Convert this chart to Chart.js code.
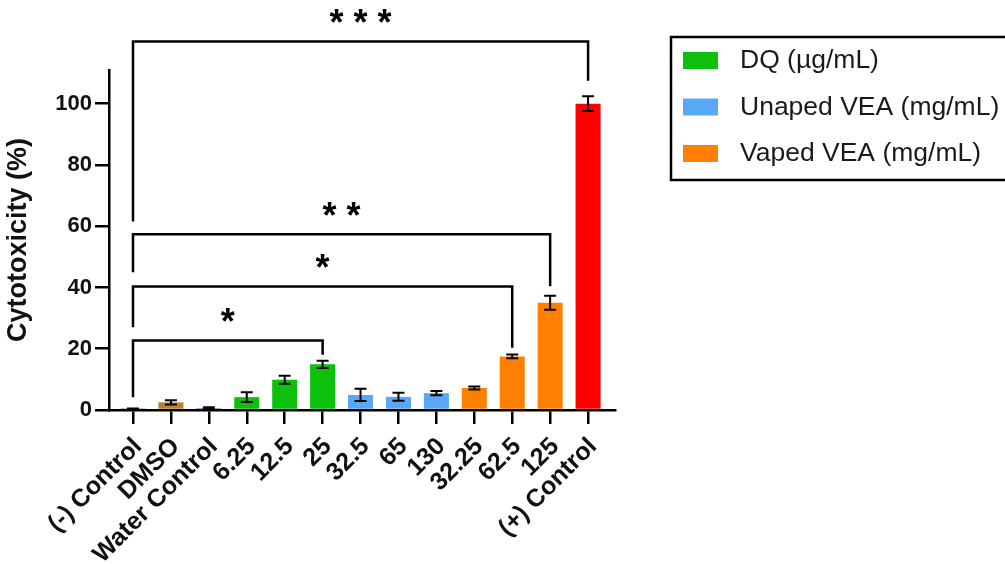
<!DOCTYPE html>
<html>
<head>
<meta charset="utf-8">
<script src="https://cdn.jsdelivr.net/npm/chart.js@4"></script>
<style>
  html, body { margin: 0; padding: 0; background: #fff; }
  #wrap { width: 1005px; height: 564px; }
</style>
</head>
<body>
<div id="wrap"><canvas id="chart" width="1005" height="564"></canvas></div>
<script>
// data
const categories = ["(-) Control", "DMSO", "Water Control", "6.25", "12.5", "25",
  "32.5", "65", "130", "32.25", "62.5", "125", "(+) Control"];
const values = [0.3, 2.5, 0.6, 4.2, 9.9, 14.9, 4.9, 4.3, 5.5, 7.2, 17.5, 35, 100];
const errors = [0.2, 0.7, 0.3, 1.6, 1.3, 1.2, 2.0, 1.3, 0.7, 0.5, 0.6, 2.3, 2.4];
const groups = ["neg", "dmso", "water", "dq", "dq", "dq",
  "unaped", "unaped", "unaped", "vaped", "vaped", "vaped", "pos"];
const yTicks = [0, 20, 40, 60, 80, 100];

const legendLabels = ["DQ (\u00b5g/mL)", "Unaped VEA (mg/mL)", "Vaped VEA (mg/mL)"];
const legendGroups = ["dq", "unaped", "vaped"];

// significance brackets: from bar, to bar, bar height, left end, right end, stars
const brackets = [
  [0, 12, 120.3, 61.5, 107.5, "***"],
  [0, 11, 57.4, 45, 40.4, "**"],
  [0, 10, 40.3, 27, 20.3, "*"],
  [0, 5, 22.7, 4.2, 18, "*"],
];

const colors = {
  neg: "#111111",
  dmso: "#BD8030",
  water: "#A040C8",
  dq: "#0CC00C",
  unaped: "#5AA8F5",
  vaped: "#FF8000",
  pos: "#FF0000",
};

const FONT = "'Liberation Sans', Arial, sans-serif";

const errorBars = {
  id: "errorBars",
  afterDatasetsDraw(chart) {
    const ctx = chart.ctx;
    const y = chart.scales.y;
    const meta = chart.getDatasetMeta(0);
    ctx.save();
    ctx.strokeStyle = "#000";
    ctx.lineWidth = 2;
    meta.data.forEach((bar, i) => {
      const top = y.getPixelForValue(values[i] + errors[i]);
      const bot = y.getPixelForValue(Math.max(0, values[i] - errors[i]));
      const x = bar.x;
      ctx.beginPath();
      ctx.moveTo(x, top); ctx.lineTo(x, bot);
      ctx.moveTo(x - 6, top); ctx.lineTo(x + 6, top);
      ctx.moveTo(x - 6, bot); ctx.lineTo(x + 6, bot);
      ctx.stroke();
    });
    ctx.restore();
  }
};

const sigBrackets = {
  id: "sigBrackets",
  afterDraw(chart) {
    const ctx = chart.ctx;
    const x = chart.scales.x, y = chart.scales.y;
    ctx.save();
    ctx.strokeStyle = "#000";
    ctx.lineWidth = 2.5;
    ctx.fillStyle = "#000";
    ctx.font = "bold 36px " + FONT;
    ctx.textAlign = "center";
    ctx.textBaseline = "middle";
    brackets.forEach(([a, b, h, l, r, txt]) => {
      const x1 = x.getPixelForValue(a), x2 = x.getPixelForValue(b);
      const yh = y.getPixelForValue(h);
      ctx.beginPath();
      ctx.moveTo(x1, y.getPixelForValue(l));
      ctx.lineTo(x1, yh);
      ctx.lineTo(x2, yh);
      ctx.lineTo(x2, y.getPixelForValue(r));
      ctx.stroke();
      ctx.fillText(txt.split("").join(" "), (x1 + x2) / 2, yh - 16);
    });
    ctx.restore();
  }
};

const boxLegend = {
  id: "boxLegend",
  afterDraw(chart) {
    const ctx = chart.ctx;
    ctx.save();
    ctx.strokeStyle = "#000";
    ctx.lineWidth = 2.5;
    ctx.strokeRect(671, 37, 360, 143);
    ctx.font = "26.5px " + FONT;
    ctx.textBaseline = "middle";
    ctx.textAlign = "left";
    legendLabels.forEach((lab, i) => {
      const cy = 60 + i * 46.5;
      ctx.fillStyle = colors[legendGroups[i]];
      ctx.fillRect(683, cy - 8, 35, 17);
      ctx.fillStyle = "#1a1a1a";
      ctx.fillText(lab, 740, cy + 1);
    });
    ctx.restore();
  }
};

new Chart(document.getElementById("chart"), {
  type: "bar",
  data: {
    datasets: [{
      data: values.map((v, i) => ({ x: i, y: v })),
      backgroundColor: groups.map(g => colors[g]),
      borderWidth: 0,
      barPercentage: 0.66,
      categoryPercentage: 1,
    }],
  },
  options: {
    responsive: false,
    animation: false,
    layout: { padding: { top: 70, right: 390, bottom: 0, left: 0 } },
    plugins: { legend: { display: false }, tooltip: { enabled: false } },
    scales: {
      x: {
        type: "linear",
        min: -0.633,
        max: 12.71,
        offset: false,
        afterBuildTicks: s => { s.ticks = categories.map((c, i) => ({ value: i })); },
        afterFit: s => { s.height = 154; },
        ticks: {
          autoSkip: false,
          minRotation: 45,
          maxRotation: 45,
          padding: 8,
          labelOffset: 5,
          color: "#111",
          font: { family: FONT, size: 25, weight: "bold" },
          callback: v => categories[v],
        },
        grid: { display: true, offset: false, drawOnChartArea: false, drawTicks: true,
                tickLength: 14, color: "#000", lineWidth: 2.5 },
        border: { display: true, color: "#000", width: 2.5 },
      },
      y: {
        min: 0,
        max: 111,
        afterBuildTicks: s => { s.ticks = yTicks.map(v => ({ value: v })); },
        afterFit: s => { s.width = 109; },
        ticks: {
          padding: 3,
          color: "#111",
          font: { family: FONT, size: 22, weight: "bold" },
        },
        title: {
          display: true,
          text: "Cytotoxicity (%)",
          color: "#111",
          font: { family: FONT, size: 27, weight: "bold" },
          padding: { top: 2, bottom: 0 },
        },
        grid: { display: true, drawOnChartArea: false, drawTicks: true,
                tickLength: 14, color: "#000", lineWidth: 2.5 },
        border: { display: true, color: "#000", width: 2.5 },
      },
    },
  },
  plugins: [errorBars, sigBrackets, boxLegend],
});
</script>
</body>
</html>
